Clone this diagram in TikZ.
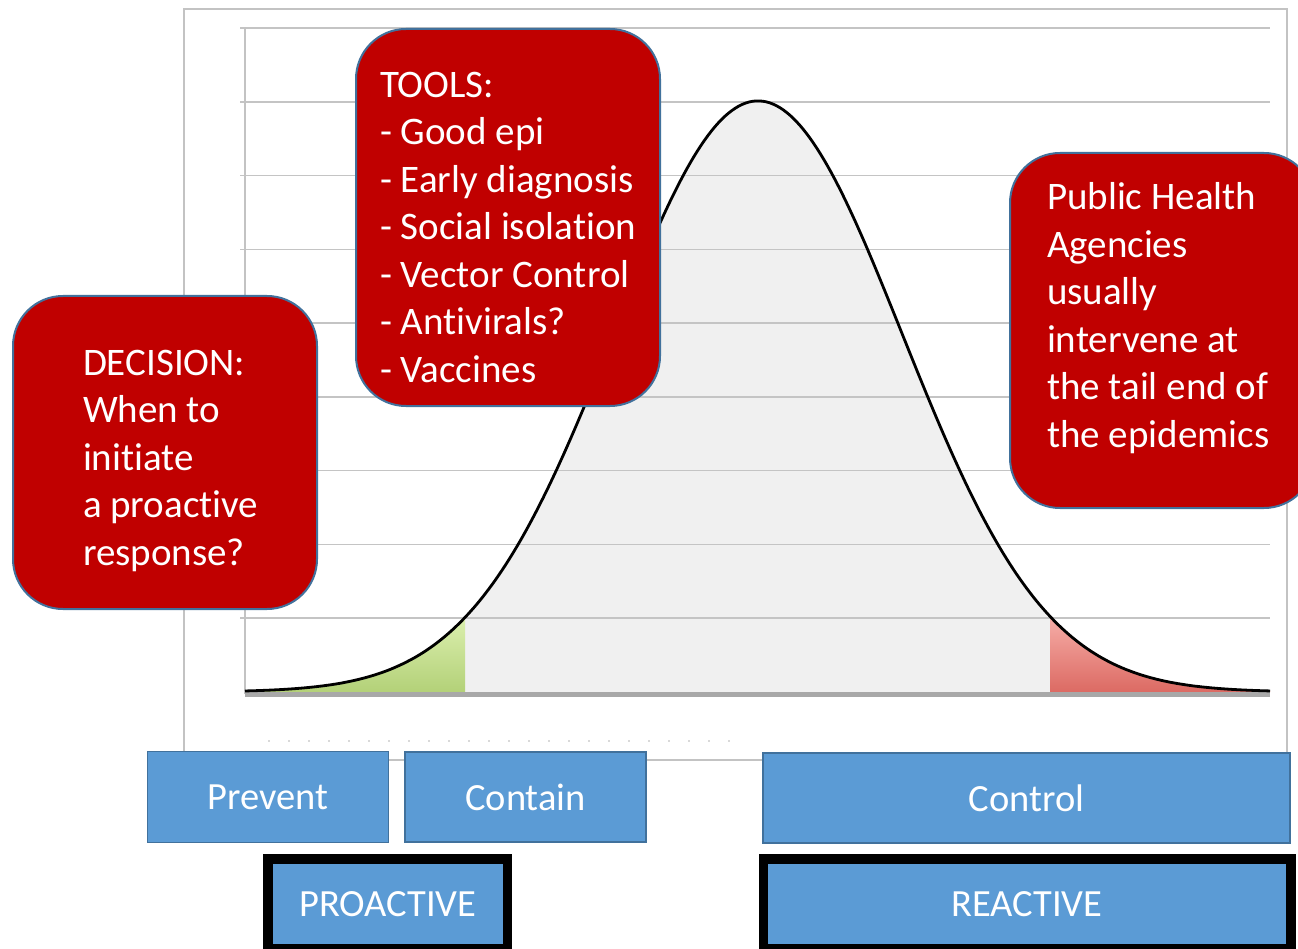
\documentclass[tikz,border=0pt]{standalone}
\usepackage{fontspec}
\setmainfont{Carlito}[Ligatures={NoCommon,NoRare,NoContextual}]
\definecolor{boxred}{HTML}{C00000}
\definecolor{boxedge}{HTML}{41719C}
\definecolor{boxblue}{HTML}{5B9BD5}
\definecolor{gridgray}{HTML}{C4C4C4}
\definecolor{framegray}{HTML}{C3C3C3}
\definecolor{axisgray}{HTML}{A8A8A8}
\definecolor{curvegray}{HTML}{F0F0F0}
\definecolor{greentop}{HTML}{DBEFAE}
\definecolor{greenbot}{HTML}{B3D178}
\definecolor{redtop}{HTML}{F6AEA8}
\definecolor{redbot}{HTML}{DC6A63}
\begin{document}
\begin{tikzpicture}[x=1pt,y=-1pt,
  declare function={bell(\t)=692-591*exp(-((\t-758)/144)^2/2);},
  redbox/.style={rectangle, rounded corners=50pt, fill=boxred, draw=boxedge, line width=2pt, anchor=north west, inner sep=0pt, outer sep=0pt},
  redtext/.style={text=white, anchor=base west, inner sep=0pt, outer sep=0pt, font=\fontsize{39}{47.5}\selectfont},
  bluebox/.style={rectangle, fill=boxblue, draw=boxedge, line width=1.5pt, text=white, anchor=north west, inner sep=0pt, outer sep=0pt, font=\fontsize{38.5}{46}\selectfont},
  actbox/.style={bluebox, draw=black, line width=9.5pt},
  gridline/.style={draw=gridgray, line width=1.5pt}]
\useasboundingbox (0,0) rectangle (1298,949);
\clip (0,0) rectangle (1298,949);
\fill[white] (0,0) rectangle (1298,949);
% chart frame
\draw[framegray, line width=2pt] (184,9) rectangle (1287,760);
% fills under the curve
\fill[curvegray] (465,692) -- plot[domain=465:1050, samples=120] (\x,{bell(\x)}) -- (1050,692) -- cycle;
\shade[top color=greentop, bottom color=greenbot] (245,692) -- plot[domain=245:465, samples=60] (\x,{bell(\x)}) -- (465,692) -- cycle;
\shade[top color=redtop, bottom color=redbot] (1050,692) -- plot[domain=1050:1270, samples=60] (\x,{bell(\x)}) -- (1270,692) -- cycle;
% grid lines
\foreach \k in {0,...,8} \draw[gridline] (240,{28+\k*73.78}) -- (1270,{28+\k*73.78});
% axes
\draw[framegray, line width=2.5pt] (245,28) -- (245,694);
\draw[axisgray, line width=5pt] (245,694.5) -- (1270,694.5);
% bell curve
\draw[black, line width=2.8pt, line join=round] plot[domain=245:1270, samples=300] (\x,{bell(\x)});
% faint tick dots
\draw[gray!30, line width=1.2pt, dash pattern=on 1.5pt off 18.5pt] (268,741) -- (745,741);
% red callouts
\node[redbox, minimum width=304pt, minimum height=377pt] (tools) at (356,29) {};
\node[redtext] (toolstext) at (380,97.5) {\parbox[t]{280pt}{\raggedright TOOLS:\\- Good epi\\- Early diagnosis\\- Social isolation\\- Vector Control\\- Antivirals?\\- Vaccines}};
\node[redbox, minimum width=304pt, minimum height=313pt] (decision) at (13,296) {};
\node[redtext] (decisiontext) at (83,375) {\parbox[t]{230pt}{\raggedright DECISION:\\When to\\initiate\\a proactive\\response?}};
\node[redbox, minimum width=304pt, minimum height=355pt] (agencies) at (1010,153) {};
\node[redtext] (agenciestext) at (1047,210) {\parbox[t]{250pt}{\raggedright Public Health\\Agencies\\usually\\intervene at\\the tail end of\\the epidemics}};
% blue boxes
\node[bluebox, minimum width=241pt, minimum height=91pt] (prevent) at (147.5,751.5) {Prevent};
\node[bluebox, minimum width=241pt, minimum height=90pt] (contain) at (405,752) {Contain};
\node[bluebox, minimum width=527pt, minimum height=90pt] (control) at (763,753) {Control};
\node[actbox, minimum width=239.5pt, minimum height=90pt] (proactive) at (268,858.75) {PROACTIVE};
\node[actbox, minimum width=527.5pt, minimum height=90pt] (reactive) at (763.25,858.75) {REACTIVE};
\end{tikzpicture}
\end{document}
